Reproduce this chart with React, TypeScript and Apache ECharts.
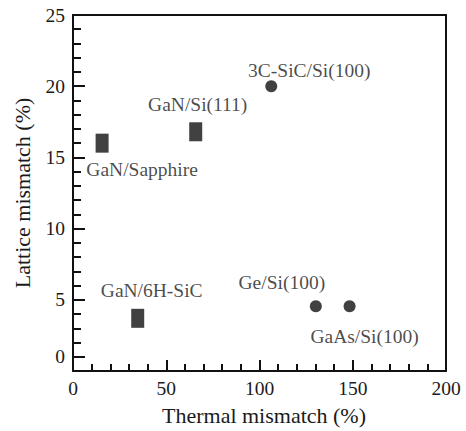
import React, { useEffect, useRef } from "react";
import * as echarts from "echarts";

const squareNames = ["GaN/Sapphire", "GaN/Si(111)", "GaN/6H-SiC"];
const squareX = [15.6, 65.8, 34.7];
const squareY = [16.0, 16.8, 3.7];

const circleNames = ["3C-SiC/Si(100)", "Ge/Si(100)", "GaAs/Si(100)"];
const circleX = [106.3, 130.2, 148.3];
const circleY = [20.0, 4.55, 4.55];

const yTickLabels = ["0", "5", "10", "15", "20", "25"];
const yLabelValues = [1, 5, 10, 15, 20, 25];

const FONT = "Liberation Serif";
const INK = "#1a1a1a";
const LINE = { color: "#111", width: 2 };

const labelOffsets: Record<string, number[]> = {
  "GaN/Sapphire": [40, 26],
  "GaN/Si(111)": [2, -27],
  "GaN/6H-SiC": [14, -28],
  "3C-SiC/Si(100)": [38, -16],
  "Ge/Si(100)": [-34, -24],
  "GaAs/Si(100)": [15, 30],
};

function buildData(names: string[], xs: number[], ys: number[]) {
  return names.map((n, i) => ({
    name: n,
    value: [xs[i], ys[i]],
    label: { offset: labelOffsets[n] },
  }));
}

export default function App() {
  const ref = useRef<HTMLDivElement>(null);
  useEffect(() => {
    if (!ref.current) return;
    const chart = echarts.init(ref.current, undefined, { renderer: "svg" });
    const labelStyle = {
      show: true,
      position: "inside",
      formatter: "{b}",
      fontFamily: FONT,
      fontSize: 19.5,
      color: INK,
    };
    const hidden = { show: false };
    chart.setOption({
      animation: false,
      backgroundColor: "#fff",
      grid: { left: 73, right: 20, top: 15, bottom: 57, show: false },
      xAxis: [
        {
          type: "value",
          position: "bottom",
          min: 0,
          max: 200,
          interval: 50,
          name: "Thermal mismatch (%)",
          nameLocation: "middle",
          nameGap: 33,
          nameTextStyle: { fontFamily: FONT, fontSize: 22, color: INK, padding: [0, 0, 0, 9] },
          axisLine: { show: true, onZero: false, lineStyle: LINE },
          axisTick: { show: true, inside: true, length: 11, lineStyle: LINE },
          axisLabel: { show: true, fontFamily: FONT, fontSize: 19.5, color: INK, margin: 7 },
          splitLine: hidden,
        },
        {
          type: "value",
          position: "bottom",
          min: 0,
          max: 200,
          interval: 10,
          axisLine: { show: false, onZero: false },
          axisTick: { show: true, inside: true, length: 7, lineStyle: LINE },
          axisLabel: hidden,
          splitLine: hidden,
        },
        {
          type: "value",
          position: "top",
          min: 0,
          max: 200,
          axisLine: { show: true, onZero: false, lineStyle: LINE },
          axisTick: hidden,
          axisLabel: hidden,
          splitLine: hidden,
        },
      ],
      yAxis: [
        {
          type: "value",
          position: "left",
          min: 0,
          max: 25,
          interval: 5,
          name: "Lattice mismatch (%)",
          nameLocation: "middle",
          nameGap: 40,
          nameTextStyle: { fontFamily: FONT, fontSize: 22, color: INK },
          axisLine: { show: true, onZero: false, lineStyle: LINE },
          axisTick: {
            show: true,
            inside: true,
            length: 12,
            customValues: yLabelValues,
            lineStyle: LINE,
          },
          axisLabel: {
            show: true,
            fontFamily: FONT,
            fontSize: 19.5,
            color: INK,
            margin: 8,
            customValues: yLabelValues,
            formatter: (v: number) => {
              const idx = yLabelValues.indexOf(v);
              return idx < 0 ? "" : yTickLabels[idx];
            },
          },
          splitLine: hidden,
        },
        {
          type: "value",
          position: "left",
          min: 0,
          max: 25,
          interval: 1,
          axisLine: { show: false, onZero: false },
          axisTick: { show: true, inside: true, length: 8, lineStyle: LINE },
          axisLabel: hidden,
          splitLine: hidden,
        },
        {
          type: "value",
          position: "right",
          min: 0,
          max: 25,
          axisLine: { show: true, onZero: false, lineStyle: LINE },
          axisTick: hidden,
          axisLabel: hidden,
          splitLine: hidden,
        },
      ],
      series: [
        {
          type: "scatter",
          xAxisIndex: 0,
          yAxisIndex: 0,
          symbol: "rect",
          symbolSize: [13, 19],
          itemStyle: { color: "#111" },
          label: labelStyle,
          data: buildData(squareNames, squareX, squareY),
        },
        {
          type: "scatter",
          xAxisIndex: 0,
          yAxisIndex: 0,
          symbol: "circle",
          symbolSize: 12,
          itemStyle: { color: "#111" },
          label: labelStyle,
          data: buildData(circleNames, circleX, circleY),
        },
      ],
    });
    return () => chart.dispose();
  }, []);
  return (
    <div
      ref={ref}
      style={{ position: "fixed", left: 0, top: 0, width: 466, height: 431 }}
    />
  );
}
